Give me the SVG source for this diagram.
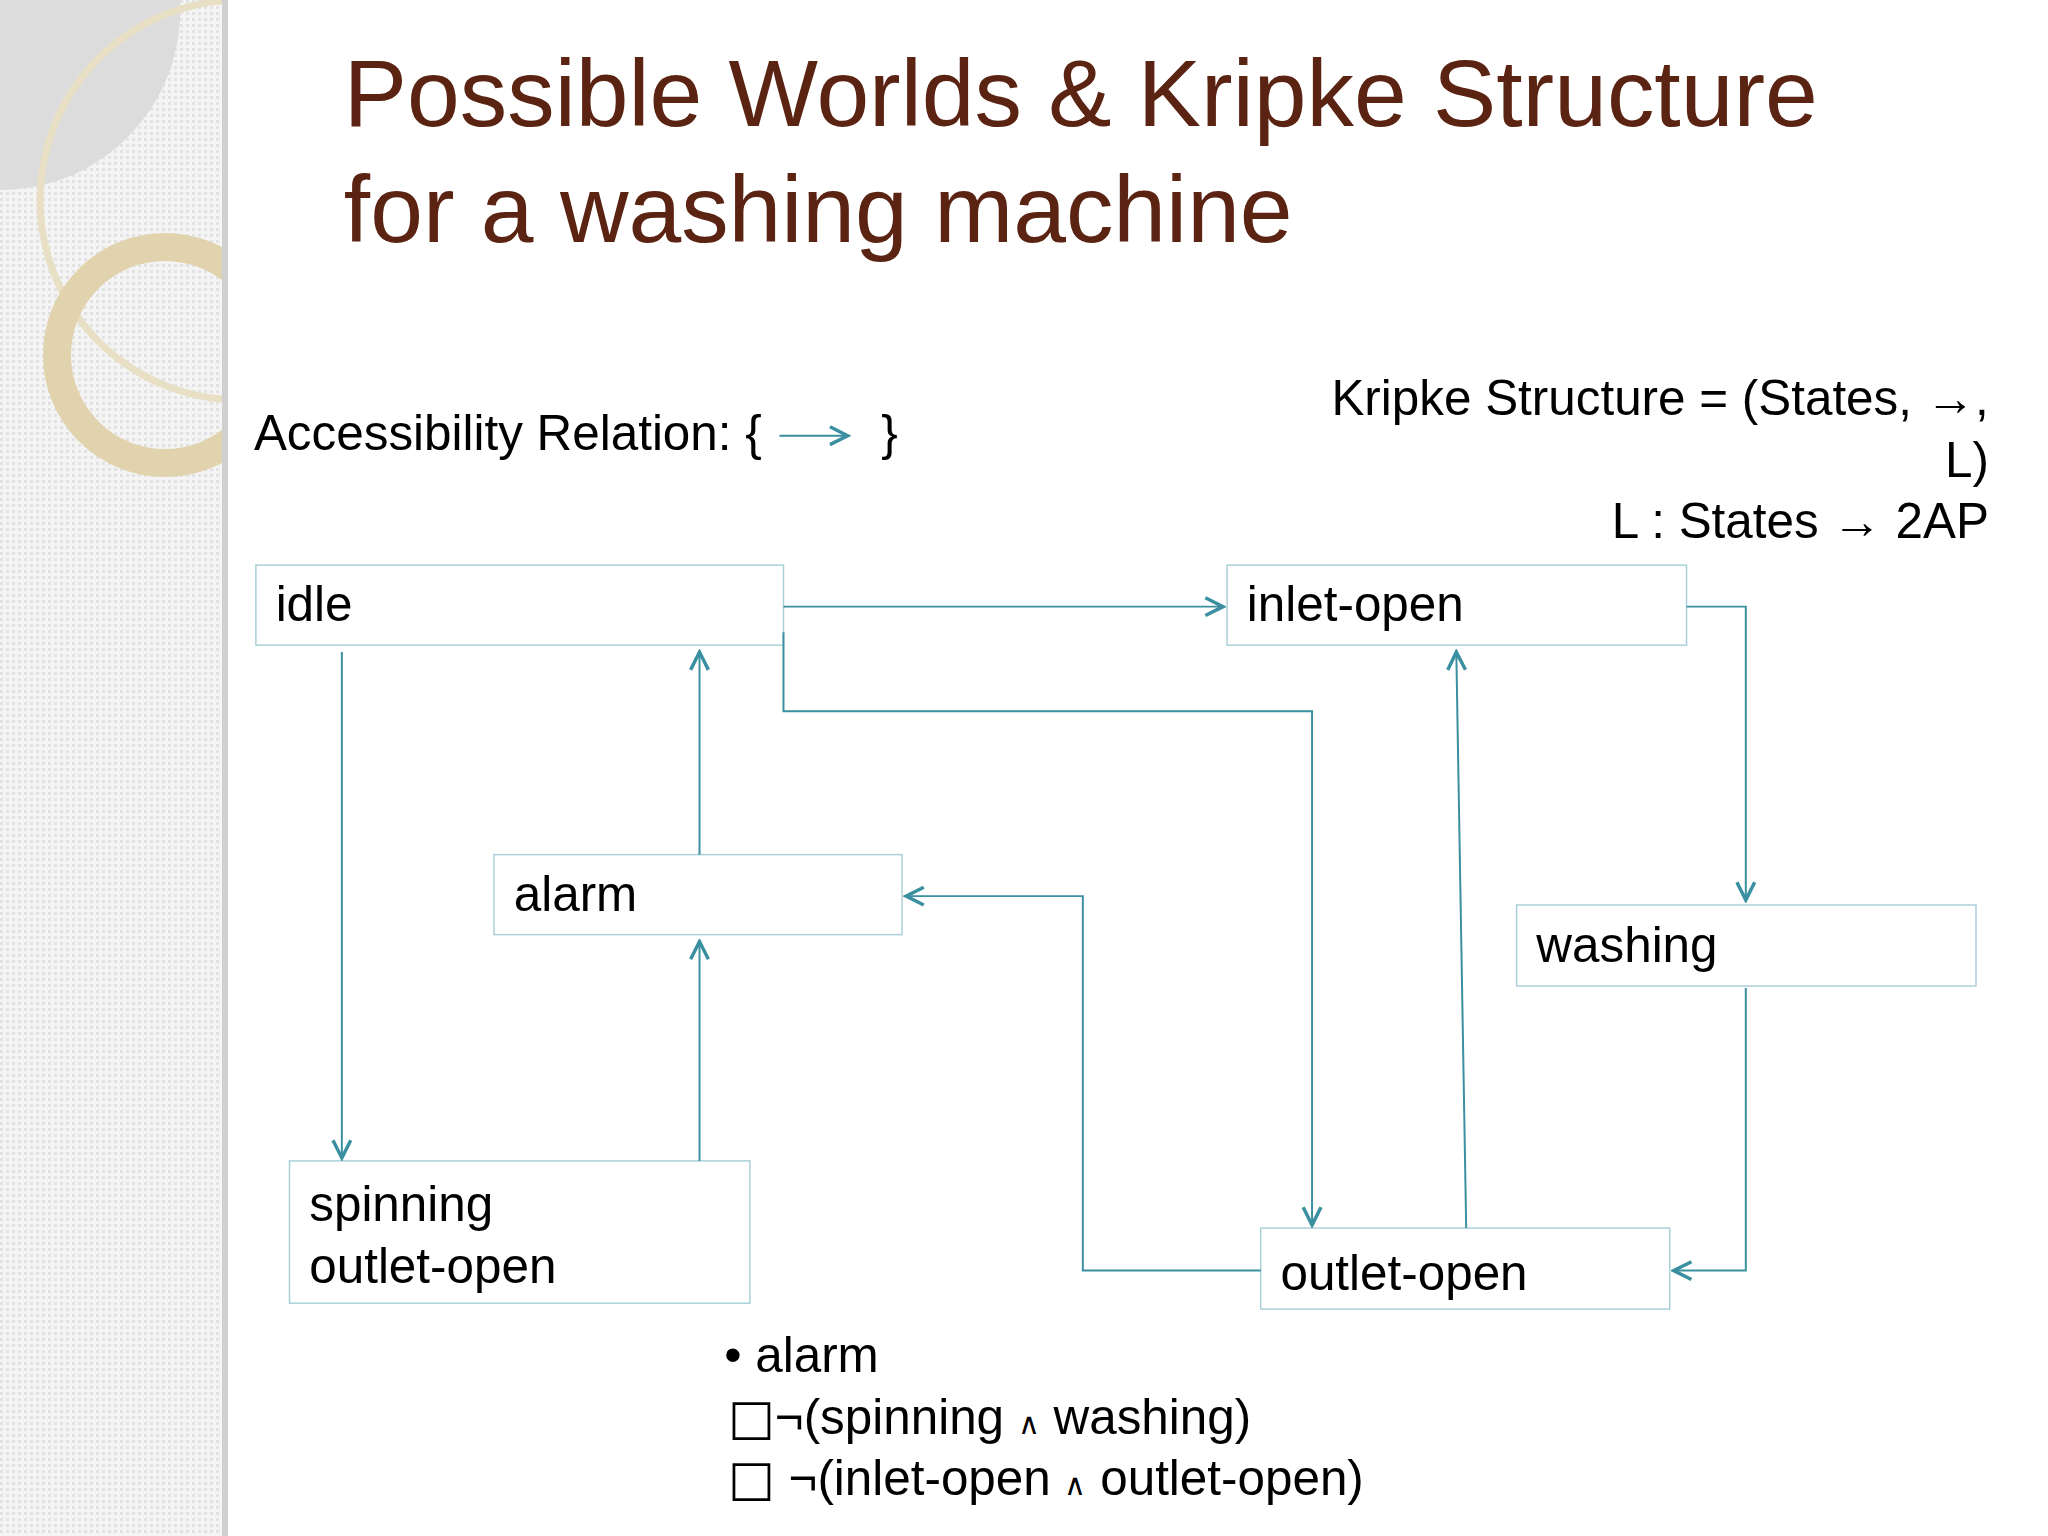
<svg xmlns="http://www.w3.org/2000/svg" width="2048" height="1536" viewBox="0 0 2048 1536">
<defs>
<pattern id="dots" width="6" height="6" patternUnits="userSpaceOnUse"><rect width="6" height="6" fill="#f4f4f4"/><rect width="3" height="3" fill="#e2e2e2"/></pattern>
<clipPath id="side"><rect x="0" y="0" width="226" height="1536"/></clipPath>
<marker id="arr" viewBox="0 0 24 24" refX="21" refY="12" markerWidth="24" markerHeight="24" markerUnits="userSpaceOnUse" orient="auto"><path d="M3,3 L21,12 L3,21" fill="none" stroke="#3a8fa0" stroke-width="3.5"/></marker>
</defs>
<style>
.box{fill:#fff;stroke:#a9d0d8;stroke-width:1.5}
.t{font-family:"Liberation Sans",Arial,sans-serif;font-size:50px;fill:#000}
.c{fill:none;stroke:#3a8fa0;stroke-width:2;marker-end:url(#arr)}
</style>
<rect width="2048" height="1536" fill="#fff"/>
<rect x="0" y="0" width="226" height="1536" fill="url(#dots)"/>
<g clip-path="url(#side)" fill="none">
<path d="M0,0 L180,0 A180,180 0 0 1 0,190 Z" fill="#dcdcdc" stroke="none"/>
<circle cx="240" cy="200" r="200" stroke="#e8dfc4" stroke-width="7"/>
<circle cx="165" cy="355" r="108" stroke="#e0d3ae" stroke-width="28"/>
</g>
<rect x="222" y="0" width="6" height="1536" fill="#d0d0d0"/>
<g transform="scale(0.988)">
<g font-family="Liberation Sans,Arial,sans-serif" font-size="96" fill="#5a2312">
<text x="348" y="128">Possible Worlds &amp; Kripke Structure</text>
<text x="348" y="245">for a washing machine</text>
</g>
<text class="t" x="257" y="455">Accessibility Relation: {</text>
<path class="c" d="M789,441 L858,441"/>
<text class="t" x="892" y="455">}</text>
<g class="t" text-anchor="end">
<text x="2013" y="420">Kripke Structure = (States, →,</text>
<text x="2013" y="483">L)</text>
<text x="2013" y="545">L : States → 2AP</text>
</g>
<g id="idle"><rect class="box" x="259" y="572" width="534" height="81"/><text class="t" x="279" y="629">idle</text></g>
<g id="inlet-open"><rect class="box" x="1242" y="572" width="465" height="81"/><text class="t" x="1262" y="629">inlet-open</text></g>
<g id="alarm"><rect class="box" x="500" y="865" width="413" height="81"/><text class="t" x="520" y="922">alarm</text></g>
<g id="washing"><rect class="box" x="1535" y="916" width="465" height="82"/><text class="t" x="1555" y="974">washing</text></g>
<g id="spinning"><rect class="box" x="293" y="1175" width="466" height="144"/><text class="t" x="313" y="1236">spinning</text><text class="t" x="313" y="1299">outlet-open</text></g>
<g id="outlet-open"><rect class="box" x="1276" y="1243" width="414" height="82"/><text class="t" x="1296" y="1306">outlet-open</text></g>
<g id="connectors">
<path class="c" d="M793,614 L1238,614"/>
<path class="c" d="M346,660 L346,1172"/>
<path class="c" d="M708,865 L708,660"/>
<path class="c" d="M708,1175 L708,953"/>
<path class="c" d="M793,640 L793,720 L1328,720 L1328,1240"/>
<path class="c" d="M1484,1243 L1474,660"/>
<path class="c" d="M1707,614 L1767,614 L1767,911"/>
<path class="c" d="M1767,1000 L1767,1286 L1694,1286"/>
<path class="c" d="M1276,1286 L1096,1286 L1096,907 L917,907"/>
</g>
<g class="t">
<text x="733" y="1389">• alarm</text>
<text x="737" y="1451"><tspan font-family="DejaVu Sans">□</tspan>¬(spinning <tspan font-size="30">∧</tspan> washing)</text>
<text x="737" y="1513"><tspan font-family="DejaVu Sans">□</tspan> ¬(inlet-open <tspan font-size="30">∧</tspan> outlet-open)</text>
</g>
</g>
</svg>
